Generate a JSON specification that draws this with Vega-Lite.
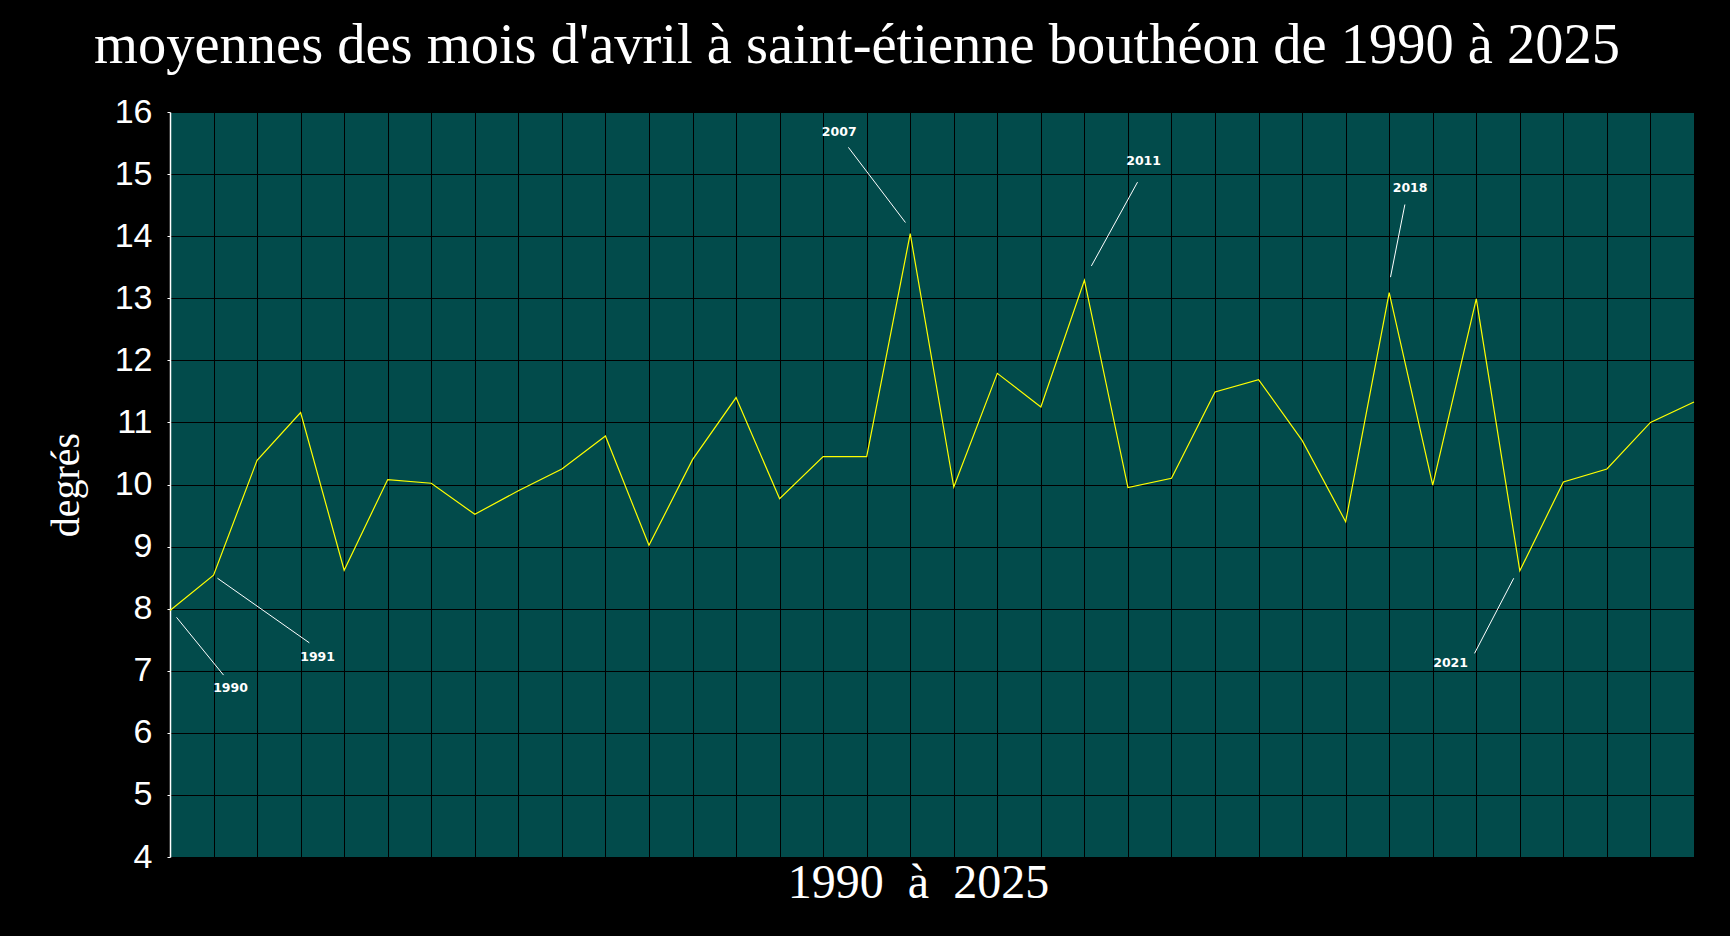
{
  "$schema": "https://vega.github.io/schema/vega-lite/v6.json",
  "width": 1524,
  "height": 745,
  "autosize": {"type": "none"},
  "padding": {"left": 170, "top": 112, "right": 36, "bottom": 79},
  "background": "#000000",
  "title": {
    "text": "moyennes des mois d'avril à saint-étienne bouthéon de 1990 à 2025",
    "font": "Liberation Serif",
    "fontSize": 56.5,
    "fontWeight": "normal",
    "color": "#FFFFFF",
    "anchor": "middle",
    "dx": -75,
    "dy": -17
  },
  "datasets": {
    "temps": [
      {"year": 1990, "value": 7.97},
      {"year": 1991, "value": 8.54},
      {"year": 1992, "value": 10.39},
      {"year": 1993, "value": 11.16},
      {"year": 1994, "value": 8.62},
      {"year": 1995, "value": 10.08},
      {"year": 1996, "value": 10.02},
      {"year": 1997, "value": 9.52},
      {"year": 1998, "value": 9.9},
      {"year": 1999, "value": 10.25},
      {"year": 2000, "value": 10.78},
      {"year": 2001, "value": 9.02},
      {"year": 2002, "value": 10.4},
      {"year": 2003, "value": 11.4},
      {"year": 2004, "value": 9.77},
      {"year": 2005, "value": 10.45},
      {"year": 2006, "value": 10.45},
      {"year": 2007, "value": 14.04},
      {"year": 2008, "value": 9.96},
      {"year": 2009, "value": 11.79},
      {"year": 2010, "value": 11.25},
      {"year": 2011, "value": 13.29},
      {"year": 2012, "value": 9.95},
      {"year": 2013, "value": 10.1},
      {"year": 2014, "value": 11.49},
      {"year": 2015, "value": 11.69},
      {"year": 2016, "value": 10.71},
      {"year": 2017, "value": 9.4},
      {"year": 2018, "value": 13.09},
      {"year": 2019, "value": 9.99},
      {"year": 2020, "value": 12.99},
      {"year": 2021, "value": 8.61},
      {"year": 2022, "value": 10.04},
      {"year": 2023, "value": 10.25},
      {"year": 2024, "value": 11.0},
      {"year": 2025, "value": 11.33}
    ],
    "annotations": [
      {"label": "1990", "from_year": 1990.15, "from_value": 7.86, "to_year": 1991.23, "to_value": 6.93, "label_year": 1991.39, "label_value": 6.73},
      {"label": "1991", "from_year": 1991.09, "from_value": 8.49, "to_year": 1993.2, "to_value": 7.45, "label_year": 1993.39, "label_value": 7.22},
      {"label": "2007", "from_year": 2006.89, "from_value": 14.22, "to_year": 2005.58, "to_value": 15.43, "label_year": 2005.37, "label_value": 15.67},
      {"label": "2011", "from_year": 2011.16, "from_value": 13.52, "to_year": 2012.22, "to_value": 14.87, "label_year": 2012.36, "label_value": 15.21},
      {"label": "2018", "from_year": 2018.03, "from_value": 13.34, "to_year": 2018.36, "to_value": 14.51, "label_year": 2018.48, "label_value": 14.78},
      {"label": "2021", "from_year": 2020.86, "from_value": 8.49, "to_year": 2019.96, "to_value": 7.28, "label_year": 2019.41, "label_value": 7.12}
    ]
  },
  "layer": [
    {
      "data": {"name": "temps"},
      "mark": {"type": "line", "color": "#FFFF00", "strokeWidth": 1.2},
      "encoding": {
        "x": {
          "field": "year",
          "type": "quantitative",
          "scale": {"domain": [1990, 2025], "nice": false, "zero": false},
          "axis": {
            "title": "1990\u00a0\u00a0à\u00a0\u00a02025",
            "values": [1990,1991,1992,1993,1994,1995,1996,1997,1998,1999,2000,2001,2002,2003,2004,2005,2006,2007,2008,2009,2010,2011,2012,2013,2014,2015,2016,2017,2018,2019,2020,2021,2022,2023,2024,2025]
          }
        },
        "y": {
          "field": "value",
          "type": "quantitative",
          "scale": {"domain": [4, 16], "nice": false, "zero": false},
          "axis": {
            "title": "degrés",
            "format": "d",
            "values": [4,5,6,7,8,9,10,11,12,13,14,15,16]
          }
        }
      }
    },
    {
      "data": {"name": "annotations"},
      "mark": {"type": "rule", "color": "#FFFFFF", "strokeWidth": 1},
      "encoding": {
        "x": {"field": "from_year", "type": "quantitative", "scale": {"domain": [1990, 2025], "nice": false, "zero": false}, "axis": {"title": "1990\u00a0\u00a0à\u00a0\u00a02025"}},
        "x2": {"field": "to_year"},
        "y": {"field": "from_value", "type": "quantitative", "scale": {"domain": [4, 16], "nice": false, "zero": false}, "axis": {"title": "degrés", "format": "d"}},
        "y2": {"field": "to_value"}
      }
    },
    {
      "data": {"name": "annotations"},
      "mark": {"type": "text", "font": "DejaVu Sans", "fontWeight": "bold", "fontSize": 12.5, "color": "#FFFFFF", "align": "center", "baseline": "middle"},
      "encoding": {
        "x": {"field": "label_year", "type": "quantitative", "scale": {"domain": [1990, 2025], "nice": false, "zero": false}, "axis": {"title": "1990\u00a0\u00a0à\u00a0\u00a02025"}},
        "y": {"field": "label_value", "type": "quantitative", "scale": {"domain": [4, 16], "nice": false, "zero": false}, "axis": {"title": "degrés", "format": "d"}},
        "text": {"field": "label"}
      }
    }
  ],
  "config": {
    "view": {"fill": "#024B4B", "stroke": null},
    "axisX": {
      "labels": false,
      "ticks": false,
      "domain": false,
      "grid": true,
      "gridColor": "#000000",
      "gridOpacity": 1,
      "gridWidth": 1,
      "titleFont": "Liberation Serif",
      "titleFontSize": 48,
      "titleFontWeight": "normal",
      "titleColor": "#FFFFFF",
      "titlePadding": 2,
      "titleX": 748
    },
    "axisY": {
      "grid": true,
      "gridColor": "#000000",
      "gridOpacity": 1,
      "gridWidth": 1,
      "domain": true,
      "domainColor": "#FFFFFF",
      "domainWidth": 1.5,
      "ticks": true,
      "tickColor": "#FFFFFF",
      "tickSize": 3,
      "labelColor": "#FFFFFF",
      "labelFont": "Liberation Sans",
      "labelFontSize": 34,
      "labelPadding": 15,
      "titleFont": "Liberation Serif",
      "titleFontSize": 40,
      "titleFontWeight": "normal",
      "titleColor": "#FFFFFF",
      "titlePadding": 28
    }
  }
}
